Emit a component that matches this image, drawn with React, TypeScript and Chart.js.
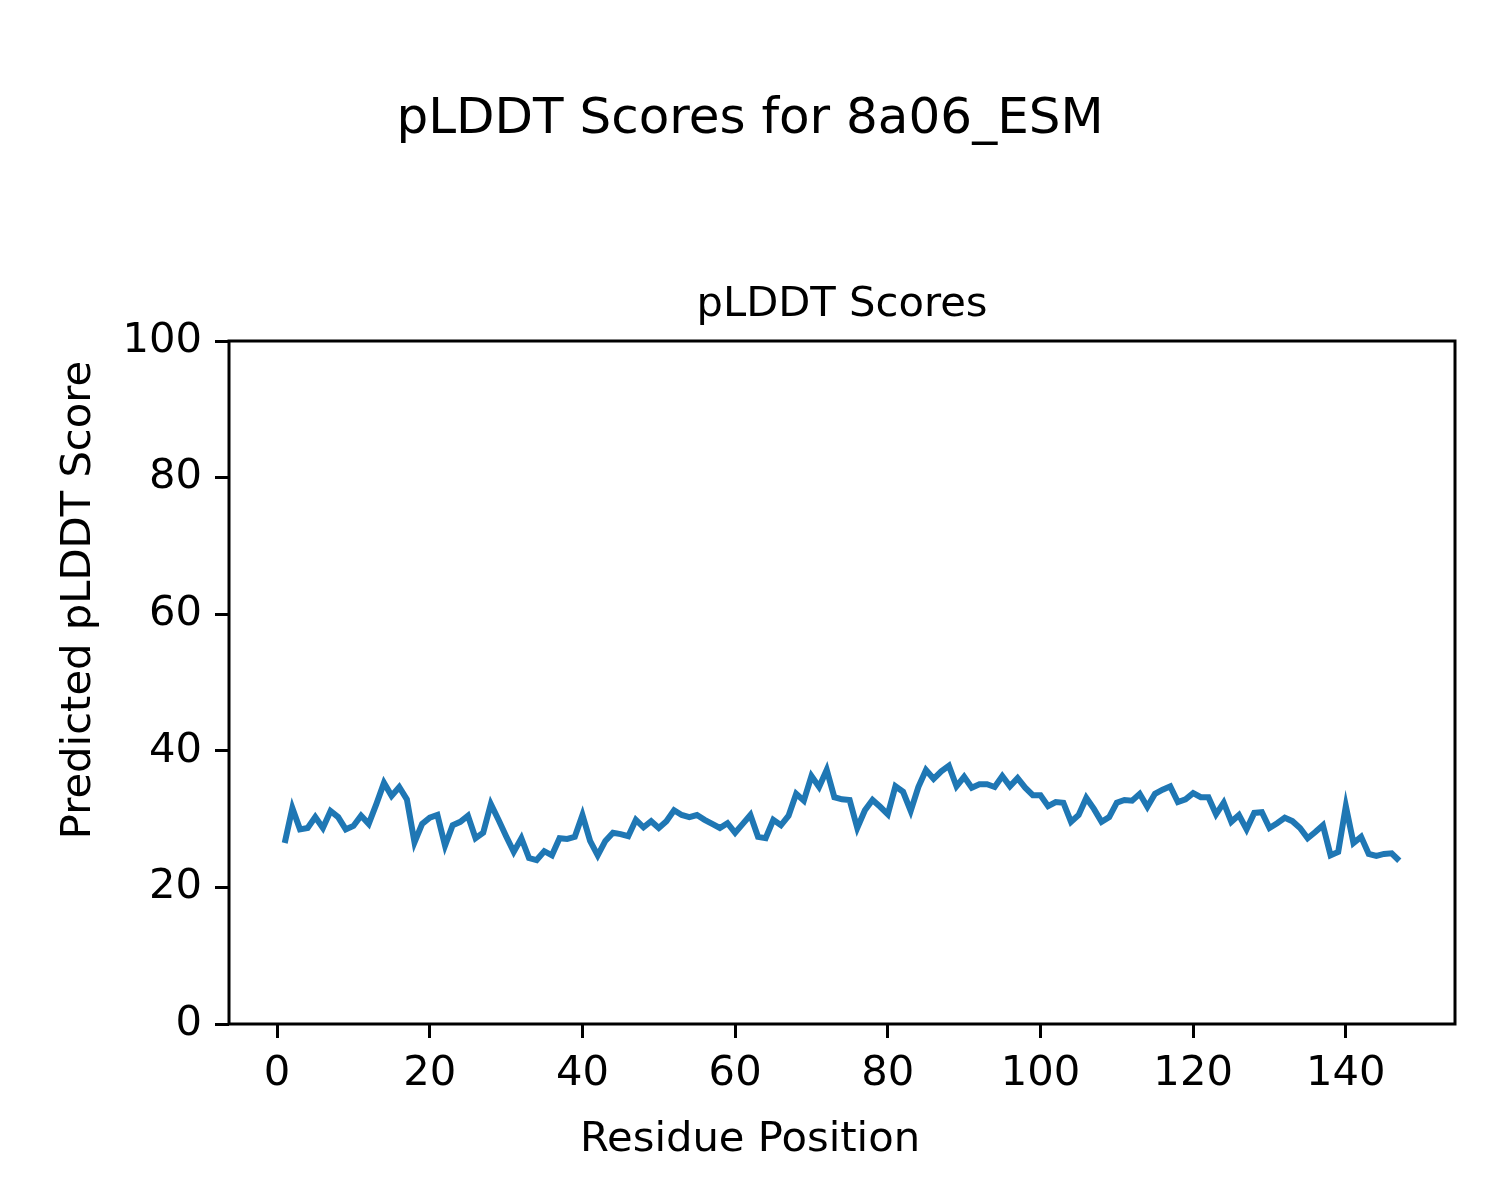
import React, { useEffect, useRef } from "react";
import { Chart, registerables } from "chart.js";

Chart.register(...registerables);

const figureTitle = "pLDDT Scores for 8a06_ESM";
const axesTitle = "pLDDT Scores";
const xLabel = "Residue Position";
const yLabel = "Predicted pLDDT Score";

const xTicks = [0, 20, 40, 60, 80, 100, 120, 140];
const yTicks = [0, 20, 40, 60, 80, 100];

const scores = [
  26.5, 31.6, 28.5, 28.7, 30.3, 28.7, 31.2, 30.3, 28.5, 29.0,
  30.5, 29.3, 32.2, 35.3, 33.4, 34.7, 32.9, 26.6, 29.3, 30.2,
  30.6, 26.1, 29.1, 29.6, 30.5, 27.2, 28.0, 32.2, 29.9, 27.5,
  25.2, 27.2, 24.3, 24.0, 25.3, 24.7, 27.2, 27.1, 27.4, 30.6,
  26.8, 24.7, 26.8, 28.0, 27.8, 27.5, 29.9, 28.8, 29.7, 28.7,
  29.7, 31.3, 30.6, 30.3, 30.6, 29.9, 29.3, 28.7, 29.4, 28.0,
  29.3, 30.6, 27.4, 27.2, 29.9, 29.1, 30.5, 33.7, 32.7, 36.3,
  34.7, 37.2, 33.2, 32.9, 32.8, 28.7, 31.3, 32.8, 31.8, 30.7,
  34.8, 34.0, 31.2, 34.7, 37.2, 35.9, 37.0, 37.8, 34.8, 36.2,
  34.6, 35.1, 35.1, 34.7, 36.3, 34.8, 36.0, 34.6, 33.5, 33.5,
  31.9, 32.5, 32.4, 29.6, 30.6, 33.1, 31.5, 29.6, 30.3, 32.4,
  32.8, 32.7, 33.7, 31.8, 33.7, 34.3, 34.8, 32.5, 32.9, 33.8,
  33.2, 33.2, 30.7, 32.4, 29.6, 30.6, 28.5, 30.9, 31.0, 28.7,
  29.4, 30.2, 29.7, 28.7, 27.2, 28.1, 29.1, 24.7, 25.2, 31.9,
  26.5, 27.4, 24.9, 24.6, 24.9, 25.0, 23.9,
];

const residues = scores.map((_, i) => i + 1);

const FONT = "'DejaVu Sans', sans-serif";

export default function App() {
  const ref = useRef<HTMLCanvasElement | null>(null);

  useEffect(() => {
    document.body.style.margin = "0";
    const canvas = ref.current;
    if (!canvas) return;

    const framePlugin = {
      id: "frameAndTexts",
      afterDraw(chart: any) {
        const { ctx, chartArea } = chart;
        ctx.save();
        ctx.strokeStyle = "#000";
        ctx.lineWidth = 3;
        ctx.strokeRect(
          chartArea.left,
          chartArea.top,
          chartArea.right - chartArea.left,
          chartArea.bottom - chartArea.top
        );
        ctx.fillStyle = "#000";
        ctx.textBaseline = "alphabetic";
        ctx.textAlign = "center";
        ctx.font = `50px ${FONT}`;
        ctx.fillText(figureTitle, 750, 133);
        ctx.font = `41.7px ${FONT}`;
        ctx.fillText(axesTitle, (chartArea.left + chartArea.right) / 2, 316);
        ctx.fillText(xLabel, 750, 1151);
        ctx.translate(90, 600);
        ctx.rotate(-Math.PI / 2);
        ctx.fillText(yLabel, 0, 0);
        ctx.restore();
      },
    };

    const chart = new Chart(canvas, {
      type: "line",
      data: {
        datasets: [
          {
            data: residues.map((x, i) => ({ x, y: scores[i] })),
            borderColor: "#1f77b4",
            borderWidth: 6,
            pointRadius: 0,
            tension: 0,
            fill: false,
          },
        ],
      },
      options: {
        responsive: false,
        animation: false,
        devicePixelRatio: 1,
        layout: { padding: { left: 0, right: 45, top: 341, bottom: 0 } },
        plugins: {
          legend: { display: false },
          title: { display: false },
          tooltip: { enabled: false },
        },
        scales: {
          x: {
            type: "linear",
            min: -6.3,
            max: 154.3,
            afterBuildTicks: (scale: any) => {
              scale.ticks = xTicks.map((v) => ({ value: v }));
            },
            afterFit: (scale: any) => {
              scale.height = 176;
            },
            grid: {
              drawOnChartArea: false,
              drawTicks: true,
              tickLength: 14,
              tickWidth: 3,
              tickColor: "#000",
            },
            border: { display: false },
            ticks: {
              color: "#000",
              padding: 11,
              maxRotation: 0,
              autoSkip: false,
              font: { family: FONT, size: 41.7 },
            },
          },
          y: {
            type: "linear",
            min: 0,
            max: 100,
            afterBuildTicks: (scale: any) => {
              scale.ticks = yTicks.map((v) => ({ value: v }));
            },
            afterFit: (scale: any) => {
              scale.width = 229;
            },
            grid: {
              drawOnChartArea: false,
              drawTicks: true,
              tickLength: 14,
              tickWidth: 3,
              tickColor: "#000",
            },
            border: { display: false },
            ticks: {
              color: "#000",
              padding: 13,
              autoSkip: false,
              font: { family: FONT, size: 41.7 },
            },
          },
        },
      },
      plugins: [framePlugin],
    } as any);

    return () => chart.destroy();
  }, []);

  return <canvas ref={ref} width={1500} height={1200} style={{ display: "block", width: 1500, height: 1200 }} />;
}
